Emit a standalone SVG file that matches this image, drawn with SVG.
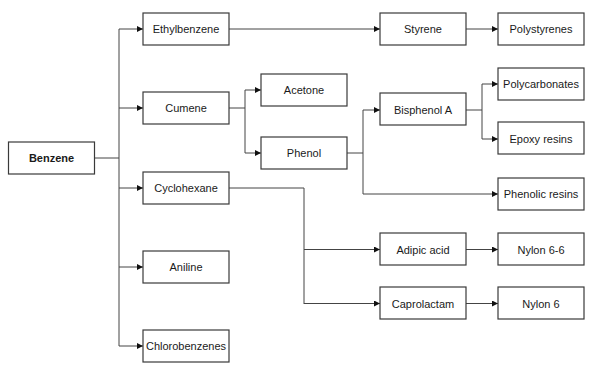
<svg xmlns="http://www.w3.org/2000/svg" width="600" height="374" viewBox="0 0 600 374">
<style>
.box{fill:#fff;stroke:#3a3a3a;stroke-width:1.2}
.lbl{font-family:"Liberation Sans",Arial,sans-serif;font-size:11px;fill:#1a1a1a;text-anchor:middle;dominant-baseline:central}
.b{font-weight:bold}
.ln{fill:none;stroke:#444;stroke-width:1}
</style>
<defs>
<marker id="ah" markerUnits="userSpaceOnUse" markerWidth="6" markerHeight="6" refX="6" refY="3" orient="auto">
<path d="M0,0 L6,3 L0,6 z" fill="#111"/>
</marker>
</defs>
<rect width="600" height="374" fill="#fff"/>
<g id="connectors">
<path class="ln" d="M95,158 H119"/>
<path class="ln" d="M119,29 V346"/>
<path class="ln" d="M119,29 H143" marker-end="url(#ah)"/>
<path class="ln" d="M119,108 H143" marker-end="url(#ah)"/>
<path class="ln" d="M119,188 H143" marker-end="url(#ah)"/>
<path class="ln" d="M119,267 H143" marker-end="url(#ah)"/>
<path class="ln" d="M119,346 H143" marker-end="url(#ah)"/>
<path class="ln" d="M229,29 H380" marker-end="url(#ah)"/>
<path class="ln" d="M466,29 H498" marker-end="url(#ah)"/>
<path class="ln" d="M229,108 H245"/>
<path class="ln" d="M245,90 V153"/>
<path class="ln" d="M245,90 H261" marker-end="url(#ah)"/>
<path class="ln" d="M245,153 H261" marker-end="url(#ah)"/>
<path class="ln" d="M347,153 H363"/>
<path class="ln" d="M363,110 V194"/>
<path class="ln" d="M363,110 H380" marker-end="url(#ah)"/>
<path class="ln" d="M363,194 H498" marker-end="url(#ah)"/>
<path class="ln" d="M466,110 H482"/>
<path class="ln" d="M482,84 V139"/>
<path class="ln" d="M482,84 H498" marker-end="url(#ah)"/>
<path class="ln" d="M482,139 H498" marker-end="url(#ah)"/>
<path class="ln" d="M229,188 H304 V304"/>
<path class="ln" d="M304,249.5 H380" marker-end="url(#ah)"/>
<path class="ln" d="M304,303.5 H380" marker-end="url(#ah)"/>
<path class="ln" d="M466,249.5 H498" marker-end="url(#ah)"/>
<path class="ln" d="M466,303.5 H498" marker-end="url(#ah)"/>
</g>
<g id="benzene"><rect class="box" x="8.5" y="142" width="86" height="32"/><text class="lbl b" x="51.5" y="158">Benzene</text></g>
<g id="ethylbenzene"><rect class="box" x="143" y="13" width="86" height="32"/><text class="lbl" x="186" y="29">Ethylbenzene</text></g>
<g id="cumene"><rect class="box" x="143" y="92" width="86" height="32"/><text class="lbl" x="186" y="108">Cumene</text></g>
<g id="cyclohexane"><rect class="box" x="143" y="172" width="86" height="32"/><text class="lbl" x="186" y="188">Cyclohexane</text></g>
<g id="aniline"><rect class="box" x="143" y="251" width="86" height="32"/><text class="lbl" x="186" y="267">Aniline</text></g>
<g id="chlorobenzenes"><rect class="box" x="143" y="330" width="86" height="32"/><text class="lbl" x="186" y="346">Chlorobenzenes</text></g>
<g id="acetone"><rect class="box" x="261" y="74" width="86" height="32"/><text class="lbl" x="304" y="90">Acetone</text></g>
<g id="phenol"><rect class="box" x="261" y="137" width="86" height="32"/><text class="lbl" x="304" y="153">Phenol</text></g>
<g id="styrene"><rect class="box" x="380" y="13" width="86" height="32"/><text class="lbl" x="423" y="29">Styrene</text></g>
<g id="bisphenol-a"><rect class="box" x="380" y="93" width="86" height="32"/><text class="lbl" x="423" y="109.5">Bisphenol A</text></g>
<g id="adipic-acid"><rect class="box" x="380" y="233" width="86" height="32"/><text class="lbl" x="423" y="249.5">Adipic acid</text></g>
<g id="caprolactam"><rect class="box" x="380" y="287" width="86" height="32"/><text class="lbl" x="423" y="303.5">Caprolactam</text></g>
<g id="polystyrenes"><rect class="box" x="498" y="13" width="86" height="32"/><text class="lbl" x="541" y="29">Polystyrenes</text></g>
<g id="polycarbonates"><rect class="box" x="498" y="68" width="86" height="32"/><text class="lbl" x="541" y="84">Polycarbonates</text></g>
<g id="epoxy-resins"><rect class="box" x="498" y="122" width="86" height="32"/><text class="lbl" x="541" y="138.5">Epoxy resins</text></g>
<g id="phenolic-resins"><rect class="box" x="498" y="178" width="86" height="32"/><text class="lbl" x="541" y="194">Phenolic resins</text></g>
<g id="nylon-6-6"><rect class="box" x="498" y="233" width="86" height="32"/><text class="lbl" x="541" y="249.5">Nylon 6-6</text></g>
<g id="nylon-6"><rect class="box" x="498" y="287" width="86" height="32"/><text class="lbl" x="541" y="303.5">Nylon 6</text></g>
</svg>
